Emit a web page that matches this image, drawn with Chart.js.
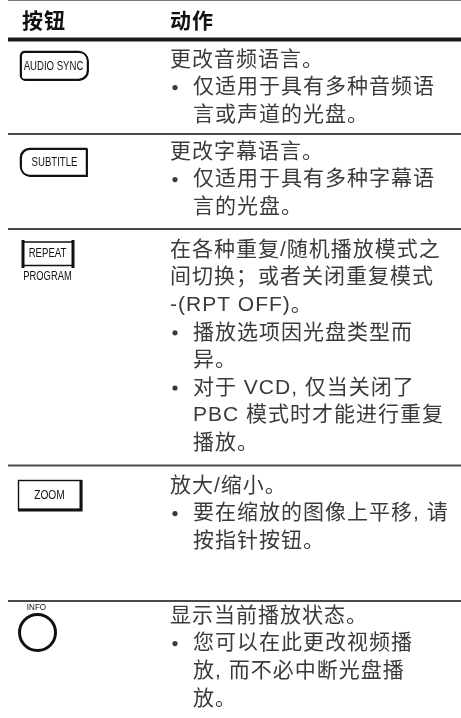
<!DOCTYPE html>
<html>
<head>
<meta charset="utf-8">
<script src="https://cdn.jsdelivr.net/npm/chart.js@4/dist/chart.umd.min.js"></script>
<style>
    html, body { margin: 0; padding: 0; background: #fff; }
    #wrap { width: 461px; height: 718px; }
</style>
</head>
<body>
<div id="wrap"><canvas id="tableChart" width="461" height="718"></canvas></div>
<script>
// =========================
// DATOS
// =========================
const headers = ["按钮", "动作"];

const buttonLabels = ["AUDIO SYNC", "SUBTITLE", "REPEAT", "ZOOM", "INFO"];
const buttonSubLabels = ["", "", "PROGRAM", "", ""];

// primer párrafo de cada fila
const actionMain = [
    ["更改音频语言。"],
    ["更改字幕语言。"],
    ["在各种重复/随机播放模式之", "间切换；或者关闭重复模式", "-(RPT OFF)。"],
    ["放大/缩小。"],
    ["显示当前播放状态。"]
];

// viñetas de cada fila (cada viñeta = lista de líneas)
const actionBullets = [
    [["仅适用于具有多种音频语", "言或声道的光盘。"]],
    [["仅适用于具有多种字幕语", "言的光盘。"]],
    [["播放选项因光盘类型而", "异。"], ["对于 VCD, 仅当关闭了", "PBC 模式时才能进行重复", "播放。"]],
    [["要在缩放的图像上平移, 请", "按指针按钮。"]],
    [["您可以在此更改视频播", "放, 而不必中断光盘播", "放。"]]
];

// =========================
// LAYOUT
// =========================
const layout = {
    left: 8,
    headerY: 22,
    headerLineY: 39.5,
    rowLines: [134, 229, 465.5, 601],
    firstLine: [60, 152, 250, 486, 616],
    lineH: 27.6,
    textX: 170,
    bulletX: 175,
    bulletTextX: 193
};

const bodyFont = '21px "Liberation Sans", "Noto Sans CJK SC", sans-serif';
const headFont = 'bold 21px "Liberation Sans", "Noto Sans CJK SC", sans-serif';
const btnFont = (size) => size + 'px "Liberation Sans", Arimo, sans-serif';

// =========================
// PLUGIN TABLA
// =========================
const tablePlugin = {
    id: "tablePlugin",
    afterDraw(chart) {
        const ctx = chart.ctx;
        const xs = chart.scales.x;
        const ys = chart.scales.y;
        const px = v => xs.getPixelForValue(v);
        const py = v => ys.getPixelForValue(v);
        const right = px(461);

        ctx.save();

        // líneas
        ctx.strokeStyle = "#777";
        ctx.lineWidth = 1;
        hline(ctx, px(layout.left), right, py(0.5));

        ctx.strokeStyle = "#1a1a1a";
        ctx.lineWidth = 4;
        hline(ctx, px(layout.left), right, py(layout.headerLineY));

        ctx.strokeStyle = "#4a4a4a";
        ctx.lineWidth = 1.8;
        layout.rowLines.forEach(y => hline(ctx, px(layout.left), right, py(y)));

        // cabecera
        ctx.fillStyle = "#111";
        ctx.font = headFont;
        ctx.textBaseline = "middle";
        ctx.textAlign = "left";
        ctx.letterSpacing = "1px";
        ctx.fillText(headers[0], px(22), py(layout.headerY));
        ctx.fillText(headers[1], px(layout.textX), py(layout.headerY));

        // texto de acciones
        ctx.fillStyle = "#3a3a3a";
        ctx.font = bodyFont;
        actionMain.forEach((lines, r) => {
            let y = layout.firstLine[r];
            lines.forEach(line => {
                ctx.fillText(line, px(layout.textX), py(y));
                y += layout.lineH;
            });
            actionBullets[r].forEach(bullet => {
                ctx.beginPath();
                ctx.arc(px(layout.bulletX), py(y), 2.6, 0, Math.PI * 2);
                ctx.fill();
                bullet.forEach(line => {
                    ctx.fillText(line, px(layout.bulletTextX), py(y));
                    y += layout.lineH;
                });
            });
        });
        ctx.letterSpacing = "0px";

        // botones
        drawButtons(ctx, px, py);

        ctx.restore();
    }
};

function hline(ctx, x1, x2, y) {
    ctx.beginPath();
    ctx.moveTo(x1, y);
    ctx.lineTo(x2, y);
    ctx.stroke();
}

// texto estrecho (como las etiquetas del mando)
function narrowText(ctx, text, x, y, size, squeeze) {
    ctx.save();
    ctx.font = btnFont(size);
    ctx.translate(x, y);
    ctx.scale(squeeze, 1);
    ctx.textAlign = "center";
    ctx.textBaseline = "middle";
    ctx.fillText(text, 0, 0);
    ctx.restore();
}

function drawButtons(ctx, px, py) {
    ctx.strokeStyle = "#111";
    ctx.fillStyle = "#111";

    // AUDIO SYNC
    ctx.lineWidth = 1.5;
    ctx.beginPath();
    ctx.roundRect(px(20.5), py(51.5), 67, 28, [4, 9, 9, 4]);
    ctx.stroke();
    ctx.beginPath();
    ctx.roundRect(px(21.2), py(52.2), 67, 28, [4, 9, 9, 4]);
    ctx.stroke();
    narrowText(ctx, buttonLabels[0], px(53.5), py(66.5), 12, 0.8);

    // SUBTITLE
    ctx.beginPath();
    ctx.roundRect(px(20.5), py(148.5), 66, 27, [9, 0, 0, 9]);
    ctx.stroke();
    ctx.beginPath();
    ctx.roundRect(px(21.2), py(149.2), 66, 27, [9, 0, 0, 9]);
    ctx.stroke();
    narrowText(ctx, buttonLabels[1], px(54.5), py(162.5), 12, 0.8);

    // REPEAT / PROGRAM
    ctx.lineWidth = 1.3;
    hline(ctx, px(22), px(74), py(242));
    hline(ctx, px(22), px(74), py(265.5));
    ctx.lineWidth = 3;
    ctx.beginPath();
    ctx.moveTo(px(23), py(240));
    ctx.lineTo(px(23), py(268));
    ctx.moveTo(px(73), py(240));
    ctx.lineTo(px(73), py(268));
    ctx.stroke();
    narrowText(ctx, buttonLabels[2], px(47.5), py(254), 12, 0.8);
    narrowText(ctx, buttonSubLabels[2], px(47.5), py(276.5), 12, 0.78);

    // ZOOM
    ctx.lineWidth = 1.4;
    ctx.strokeRect(px(18.5), py(480.5), 63, 29);
    ctx.lineWidth = 3;
    ctx.beginPath();
    ctx.moveTo(px(81), py(480));
    ctx.lineTo(px(81), py(510));
    ctx.lineTo(px(18), py(510));
    ctx.stroke();
    narrowText(ctx, buttonLabels[3], px(49.5), py(495.5), 12, 0.85);

    // INFO
    narrowText(ctx, buttonLabels[4], px(36.5), py(607), 9.5, 0.85);
    ctx.lineWidth = 3;
    ctx.beginPath();
    ctx.arc(px(37.5), py(632.5), 18, 0, Math.PI * 2);
    ctx.stroke();
}

// =========================
// CHART
// =========================
const tableChart = new Chart(document.getElementById("tableChart"), {
    type: "scatter",
    data: { datasets: [] },
    options: {
        responsive: false,
        animation: false,
        events: [],
        layout: { padding: 0 },
        plugins: {
            legend: { display: false },
            tooltip: { enabled: false }
        },
        scales: {
            x: { type: "linear", min: 0, max: 461, display: false },
            y: { type: "linear", min: 0, max: 718, reverse: true, display: false }
        }
    },
    plugins: [tablePlugin]
});
</script>
</body>
</html>
